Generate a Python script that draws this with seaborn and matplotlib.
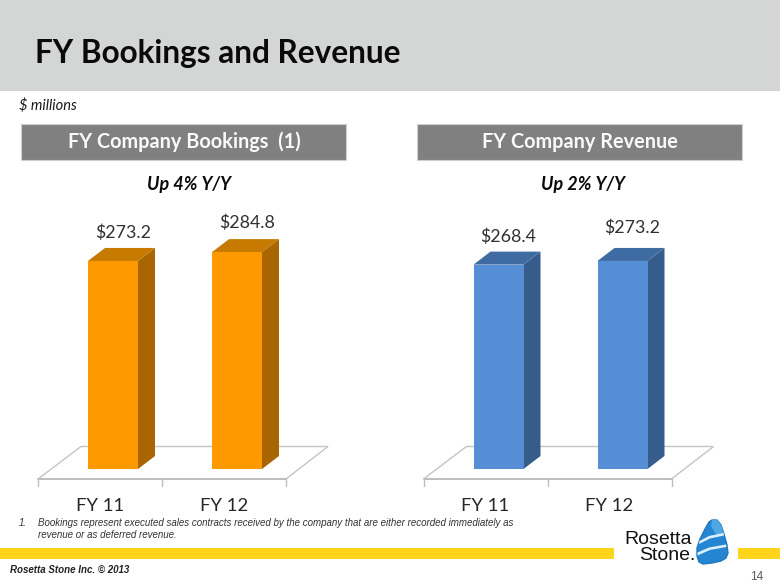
import pandas as pd
import matplotlib
matplotlib.use('Agg')
import matplotlib.pyplot as plt
from matplotlib.patches import Polygon, Rectangle
from matplotlib.transforms import ScaledTranslation
import seaborn as sns

years = ['FY 11', 'FY 12']
bookings = [273.2, 284.8]
revenue = [268.4, 273.2]
bookings_labels = ['$273.2', '$284.8']
revenue_labels = ['$268.4', '$273.2']

W, H = 780, 585
DEPTH_X, DEPTH_Y = 17, 13
SCALE = 0.7615  # px per $ million

sns.set_theme(style='white')
plt.rcParams['font.family'] = ['Lato', 'DejaVu Sans']

fig = plt.figure(figsize=(W / 100, H / 100), dpi=100)
bg = fig.add_axes([0, 0, 1, 1], zorder=0)
bg.set_xlim(0, W)
bg.set_ylim(H, 0)
bg.axis('off')


def rect(x0, y0, x1, y1, color, **kw):
    bg.add_patch(Rectangle((x0, y0), x1 - x0, y1 - y0, facecolor=color, edgecolor=kw.pop('ec', 'none'), **kw))


def draw_chart(left, values, labels, front, side, top, label_dy):
    # axes is set back from the floor's front edge, like the 3d original
    base = 469
    ymax = 300
    ax = fig.add_axes([left / W, (H - base) / H, 248 / W, ymax * SCALE / H], zorder=2)
    ax.patch.set_alpha(0)
    df = pd.DataFrame({'year': years, 'value': values})
    sns.barplot(data=df, x='year', y='value', color=front, saturation=1, width=50 / 124, linewidth=0, ax=ax)
    ax.set_xlim(-0.5, 1.5)
    ax.set_ylim(0, ymax)
    ax.set_xlabel('')
    ax.set_ylabel('')
    ax.set_yticks([])
    sns.despine(ax=ax, left=True, bottom=True)
    ax.tick_params(axis='x', length=0, pad=21, labelsize=13.3, labelcolor='#262626')
    shift = ScaledTranslation(-13 / 100, 0, fig.dpi_scale_trans)
    for t in ax.get_xticklabels():
        t.set_transform(t.get_transform() + shift)

    # floor
    fx = left - 13
    bg.add_patch(Polygon([(fx, 479), (fx + 43, 446.5), (fx + 290, 446.5), (fx + 248, 479)],
                         closed=False, fill=False, edgecolor='#C4C4C4', lw=1.0, zorder=1))
    bg.plot([fx, fx + 248], [479, 479], color='#BDBDBD', lw=1.4, zorder=1)
    for k in range(3):
        bg.plot([fx + 124 * k] * 2, [479, 486], color='#BDBDBD', lw=1.0, zorder=1)

    # side and top faces of each bar, from where the library put the bar
    for bar, txt, dy in zip(ax.patches, labels, label_dy):
        (x0, y0), (x1, y1) = ax.transData.transform(
            [(bar.get_x(), 0), (bar.get_x() + bar.get_width(), bar.get_height())])
        y0, y1 = H - y0, H - y1
        bg.add_patch(Polygon([(x1, y0), (x1 + DEPTH_X, y0 - DEPTH_Y), (x1 + DEPTH_X, y1 - DEPTH_Y), (x1, y1)],
                             facecolor=side, edgecolor='none', zorder=2))
        bg.add_patch(Polygon([(x0, y1), (x0 + DEPTH_X, y1 - DEPTH_Y), (x1 + DEPTH_X, y1 - DEPTH_Y), (x1, y1)],
                             facecolor=top, edgecolor='none', zorder=2))
        ax.annotate(txt, (bar.get_x() + bar.get_width() / 2, bar.get_height()),
                    xytext=(10 * 0.72, dy * 0.72), textcoords='offset points',
                    ha='center', va='center', fontsize=12.8, color='#303030', annotation_clip=False)


# header band
rect(0, 0, W, 91, '#D4D6D5')
bg.text(35, 63, 'FY Bookings and Revenue', fontsize=22.7, fontweight='bold', color='#0A0A0A', va='baseline')
bg.text(19, 105, '$ millions', fontsize=10.5, style='italic', color='#1A1A1A', va='center')

# panel titles
for x0, title, sub, cx in [(21, 'FY Company Bookings  (1)', 'Up 4% Y/Y', 189),
                           (417, 'FY Company Revenue', 'Up 2% Y/Y', 583)]:
    rect(x0, 124, x0 + 325, 159.5, '#808080', ec='#D0D0D0', lw=0.8)
    bg.text(x0 + 163, 148, title, fontsize=14.3, fontweight='bold', color='#FAFAFA', ha='center', va='baseline')
    bg.text(cx, 190, sub, fontsize=13, fontweight='bold', style='italic', color='#0A0A0A', ha='center', va='baseline')

draw_chart(51, bookings, bookings_labels, '#FF9900', '#A86500', '#C67A00', [28, 29])
draw_chart(436.5, revenue, revenue_labels, '#558ED5', '#355C8B', '#3F6BA3', [27.5, 33])

# footnote
note = {'fontsize': 7.0, 'style': 'italic', 'family': 'Liberation Sans', 'color': '#333333', 'va': 'center'}
bg.text(19, 523.5, '1.', **note)
bg.text(38, 523.5, 'Bookings represent executed sales contracts received by the company that are either recorded immediately as', **note)
bg.text(38, 535, 'revenue or as deferred revenue.', **note)

# footer
rect(0, 548, 614, 559, '#FFD41A')
rect(738, 548, W, 559, '#FFD41A')
bg.text(10, 570, 'Rosetta Stone Inc. © 2013', fontsize=7, fontweight='bold', style='italic',
        family='Liberation Sans', color='#222222', va='center')
bg.text(756.5, 577, '14', fontsize=8.5, family='Liberation Sans', color='#595959', ha='center', va='center')

# logo
bg.text(624, 544, 'Rosetta', fontsize=14, family='Liberation Sans', color='#111111', va='baseline')
bg.text(695.5, 559.5, 'Stone.', fontsize=14, family='Liberation Sans', color='#111111', va='baseline', ha='right')
bg.add_patch(Polygon([(712, 520), (717, 520), (721, 525), (724, 534), (727, 545), (728, 553), (726, 558),
                      (721, 561), (712, 563), (703, 564), (699, 562), (697, 556), (697, 548), (700, 539),
                      (705, 529), (709, 522)],
                     facecolor='#2486D2', edgecolor='#2079BF', lw=1.0, joinstyle='round', zorder=3))
bg.add_patch(Polygon([(712, 520), (717, 520), (721, 525), (724, 534), (716, 534.5), (711, 526)],
                     facecolor='#4FA8E4', edgecolor='none', zorder=3))
bg.add_patch(Polygon([(699.5, 541), (709, 536), (723.5, 533), (724, 535.5), (710, 538.5), (699, 544)],
                     facecolor='#DDEFFA', edgecolor='none', zorder=4))
bg.add_patch(Polygon([(697.5, 552.5), (709, 547.5), (726, 544.5), (726.5, 547), (710, 550), (697.5, 555.5)],
                     facecolor='#DDEFFA', edgecolor='none', zorder=4))

plt.savefig('out.png', dpi=100)
